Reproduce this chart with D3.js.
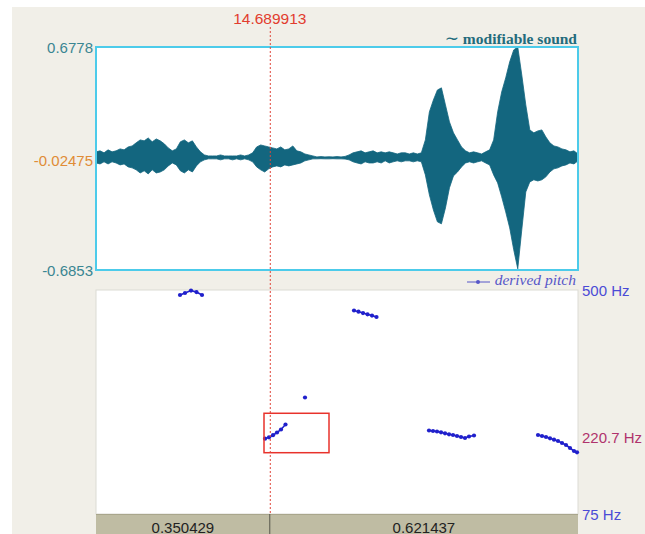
<!DOCTYPE html>
<html>
<head>
<meta charset="utf-8">
<script src="https://cdn.jsdelivr.net/npm/d3@7"></script>
<style>
  html, body { margin: 0; padding: 0; background: #ffffff; }
  svg { display: block; }
</style>
</head>
<body>
<svg id="chart" width="645" height="534"></svg>
<script>
// Visible time window (s): cursor position plus the two interval lengths around it
const cursorTime = 14.689913;
const leftSpan = 0.350429;
const rightSpan = 0.621437;

// Amplitude axis of the sound panel
const ampTop = 0.6778;
const ampBottom = -0.6853;
const ampAtCursor = -0.02475;

// Pitch axis (Hz)
const pitchTop = 500;
const pitchBottom = 75;
const pitchAtCursor = 220.7;

// Waveform envelope: maximum and minimum per column, evenly spaced over the window
const waveMax = [
  0.037, 0.043, 0.031, 0.049, 0.037, 0.043, 0.055, 0.049, 0.067, 0.073,
  0.092, 0.110, 0.104, 0.122, 0.098, 0.116, 0.104, 0.086, 0.061, 0.043,
  0.055, 0.098, 0.110, 0.092, 0.104, 0.067, 0.037, 0.018, 0.012, 0.012,
  0.012, 0.018, 0.012, 0.012, 0.012, 0.012, 0.018, 0.012, 0.018, 0.031,
  0.067, 0.079, 0.073, 0.067, 0.061, 0.055, 0.067, 0.049, 0.055, 0.073,
  0.043, 0.037, 0.024, 0.018, 0.012, 0.006, 0.008, 0.006, 0.007, 0.006,
  0.008, 0.006, 0.009, 0.018, 0.031, 0.037, 0.043, 0.031, 0.037, 0.043,
  0.031, 0.037, 0.031, 0.037, 0.031, 0.024, 0.031, 0.031, 0.024, 0.031,
  0.024, 0.031, 0.110, 0.281, 0.354, 0.415, 0.428, 0.324, 0.220, 0.153,
  0.110, 0.067, 0.043, 0.031, 0.037, 0.031, 0.024, 0.037, 0.049, 0.110,
  0.281, 0.403, 0.489, 0.587, 0.660, 0.678, 0.507, 0.324, 0.171, 0.153,
  0.165, 0.171, 0.128, 0.092, 0.073, 0.067, 0.055, 0.049, 0.037, 0.043,
  0.024
];
const waveMin = [
  -0.031, -0.037, -0.024, -0.037, -0.024, -0.031, -0.043, -0.037, -0.055, -0.061,
  -0.073, -0.092, -0.079, -0.098, -0.073, -0.092, -0.086, -0.073, -0.049, -0.031,
  -0.043, -0.079, -0.092, -0.073, -0.086, -0.049, -0.024, -0.012, -0.006, -0.006,
  -0.006, -0.012, -0.006, -0.006, -0.012, -0.006, -0.012, -0.006, -0.012, -0.024,
  -0.055, -0.073, -0.086, -0.067, -0.055, -0.049, -0.055, -0.043, -0.049, -0.043,
  -0.037, -0.031, -0.018, -0.012, -0.006, -0.006, -0.005, -0.006, -0.006, -0.005,
  -0.006, -0.006, -0.007, -0.012, -0.024, -0.031, -0.037, -0.024, -0.031, -0.031,
  -0.024, -0.031, -0.018, -0.031, -0.024, -0.018, -0.024, -0.018, -0.018, -0.024,
  -0.018, -0.024, -0.104, -0.226, -0.318, -0.391, -0.403, -0.306, -0.183, -0.110,
  -0.086, -0.055, -0.031, -0.024, -0.031, -0.024, -0.018, -0.031, -0.043, -0.104,
  -0.153, -0.238, -0.330, -0.428, -0.562, -0.678, -0.440, -0.208, -0.147, -0.134,
  -0.141, -0.134, -0.116, -0.086, -0.067, -0.061, -0.049, -0.043, -0.031, -0.037,
  -0.018
];

// Pitch contours: frame times (s) and F0 (Hz)
const contour1Time = [14.50885, 14.51894, 14.53103, 14.54212, 14.55322];
const contour1Hz   = [490.5, 494.3, 499.0, 496.0, 490.5];
const contour2Time = [14.68025, 14.68831, 14.69638, 14.70444, 14.71251, 14.72158];
const contour2Hz   = [218.0, 220.4, 224.5, 229.6, 235.3, 244.8];
const contour3Time = [14.76089];
const contour3Hz   = [296.0];
const contour4Time = [14.85970, 14.86877, 14.87785, 14.88692, 14.89599, 14.90507];
const contour4Hz   = [461.1, 458.8, 456.3, 453.9, 451.4, 448.8];
const contour5Time = [15.01092, 15.01899, 15.02706, 15.03512, 15.04319, 15.05125,
                      15.05932, 15.06738, 15.07545, 15.08351, 15.09157, 15.10166];
const contour5Hz   = [233.4, 232.5, 231.5, 230.0, 228.1, 226.2,
                      224.9, 223.0, 221.1, 219.2, 222.0, 223.9];
const contour6Time = [15.23070, 15.23877, 15.24683, 15.25490, 15.26296, 15.27103,
                      15.27909, 15.28716, 15.29522, 15.30329, 15.30934];
const contour6Hz   = [224.9, 223.0, 221.1, 218.6, 216.0, 213.5,
                      209.7, 205.9, 200.2, 194.5, 192.0];

// Selected region in the pitch panel
const selectionTime = [14.67823, 14.80929];
const selectionHz = [191.3, 266.1];

// ---------------------------------------------------------------------------
const svg = d3.select("#chart");
const W = 645, H = 534;
const sans = "'Liberation Sans', Arial, Helvetica, sans-serif";
const serif = "'Liberation Serif', 'Times New Roman', serif";

const tStart = cursorTime - leftSpan;
const tEnd = cursorTime + rightSpan;

const left = 96, right = 578;
const x = d3.scaleLinear().domain([tStart, tEnd]).range([left, right]);
const yAmp = d3.scaleLinear().domain([ampBottom, ampTop]).range([270, 47]);
const yHz = d3.scaleLinear().domain([pitchBottom, pitchTop]).range([514, 290]);

// window background
svg.append("rect").attr("width", W).attr("height", H).attr("fill", "#ffffff");
svg.append("rect").attr("x", 12).attr("y", 7).attr("width", W - 12).attr("height", H - 7)
  .attr("fill", "#f1efe8");

// ----- sound panel -----
svg.append("rect").attr("x", left).attr("y", yAmp(ampTop))
  .attr("width", right - left).attr("height", yAmp(ampBottom) - yAmp(ampTop))
  .attr("fill", "#ffffff");

svg.append("defs").append("clipPath").attr("id", "soundClip")
  .append("rect").attr("x", left).attr("y", yAmp(ampTop))
  .attr("width", right - left).attr("height", yAmp(ampBottom) - yAmp(ampTop));

const n = waveMax.length;
const waveTime = d3.range(n).map(i => tStart + i * (tEnd - tStart) / (n - 1));
const wave = waveTime.map((t, i) => ({ t, hi: waveMax[i], lo: waveMin[i] }));

const area = d3.area()
  .x(d => x(d.t))
  .y0(d => yAmp(d.lo))
  .y1(d => yAmp(d.hi))
  .curve(d3.curveLinear);

svg.append("path").datum(wave)
  .attr("clip-path", "url(#soundClip)")
  .attr("d", area)
  .attr("fill", "#13667f")
  .attr("stroke", "#13667f")
  .attr("stroke-width", 0.8)
  .attr("stroke-linejoin", "round");

svg.append("rect").attr("x", left).attr("y", yAmp(ampTop))
  .attr("width", right - left).attr("height", yAmp(ampBottom) - yAmp(ampTop))
  .attr("fill", "none").attr("stroke", "#4ccbea").attr("stroke-width", 2);

// amplitude labels
svg.append("text").attr("x", 93).attr("y", yAmp(ampTop))
  .attr("text-anchor", "end").attr("dominant-baseline", "central")
  .attr("font-family", sans).attr("font-size", 15).attr("fill", "#3a8692")
  .text(ampTop.toString());
svg.append("text").attr("x", 93).attr("y", yAmp(ampAtCursor) - 1.5)
  .attr("text-anchor", "end").attr("dominant-baseline", "central")
  .attr("font-family", sans).attr("font-size", 15).attr("fill", "#e08c36")
  .text(ampAtCursor.toString());
svg.append("text").attr("x", 93).attr("y", yAmp(ampBottom))
  .attr("text-anchor", "end").attr("dominant-baseline", "central")
  .attr("font-family", sans).attr("font-size", 15).attr("fill", "#3a8692")
  .text(ampBottom.toString());

// panel title
const title = svg.append("text").attr("x", 577).attr("y", 44)
  .attr("text-anchor", "end")
  .attr("font-family", serif).attr("font-weight", "bold").attr("font-size", 15.5)
  .attr("fill", "#236b7c");
title.append("tspan").attr("font-family", "'DejaVu Sans', sans-serif").attr("font-weight", "normal")
  .attr("font-size", 17).text("\u223C");
title.append("tspan").text(" modifiable sound");

// ----- pitch panel -----
svg.append("rect").attr("x", left).attr("y", yHz(pitchTop))
  .attr("width", right - left).attr("height", yHz(pitchBottom) - yHz(pitchTop))
  .attr("fill", "#ffffff").attr("stroke", "#dcdbd4").attr("stroke-width", 1);

// legend
const legY = 282;
svg.append("line").attr("x1", 467).attr("x2", 490).attr("y1", legY).attr("y2", legY)
  .attr("stroke", "#5757c8").attr("stroke-width", 1);
svg.append("circle").attr("cx", 478).attr("cy", legY).attr("r", 2)
  .attr("fill", "#5757c8");
svg.append("text").attr("x", 576).attr("y", 285)
  .attr("text-anchor", "end")
  .attr("font-family", serif).attr("font-style", "italic").attr("font-size", 15.5)
  .attr("fill", "#5757c8")
  .text("derived pitch");

// pitch axis labels
const hzLabel = (v, color) => svg.append("text")
  .attr("x", 582).attr("y", yHz(v))
  .attr("dominant-baseline", "central")
  .attr("font-family", sans).attr("font-size", 15).attr("fill", color)
  .text(v + " Hz");
hzLabel(pitchTop, "#4b4bd6");
hzLabel(pitchAtCursor, "#b0336c");
hzLabel(pitchBottom, "#4b4bd6");

// pitch contours
const contours = [
  [contour1Time, contour1Hz], [contour2Time, contour2Hz], [contour3Time, contour3Hz],
  [contour4Time, contour4Hz], [contour5Time, contour5Hz], [contour6Time, contour6Hz]
].map(([ts, hz]) => ts.map((t, i) => ({ t, hz: hz[i] })));

const pitchLine = d3.line().x(d => x(d.t)).y(d => yHz(d.hz));
const pg = svg.append("g");
contours.forEach(c => {
  pg.append("path").datum(c).attr("d", pitchLine)
    .attr("fill", "none").attr("stroke", "#2020cc").attr("stroke-width", 1.6);
  pg.selectAll(null).data(c).enter().append("circle")
    .attr("cx", d => x(d.t)).attr("cy", d => yHz(d.hz)).attr("r", 2.1)
    .attr("fill", "#2020cc");
});

// selection box
svg.append("rect")
  .attr("x", x(selectionTime[0])).attr("y", yHz(selectionHz[1]))
  .attr("width", x(selectionTime[1]) - x(selectionTime[0]))
  .attr("height", yHz(selectionHz[0]) - yHz(selectionHz[1]))
  .attr("fill", "none").attr("stroke", "#e8322b").attr("stroke-width", 1.5);

// ----- interval bar -----
const barTop = yHz(pitchBottom);
svg.append("rect").attr("x", left).attr("y", barTop)
  .attr("width", right - left).attr("height", H - barTop)
  .attr("fill", "#bfbca3");
svg.append("line").attr("x1", left).attr("x2", right).attr("y1", barTop + 0.5).attr("y2", barTop + 0.5)
  .attr("stroke", "#a9a68c").attr("stroke-width", 1);
svg.append("line").attr("x1", x(cursorTime)).attr("x2", x(cursorTime))
  .attr("y1", barTop).attr("y2", H)
  .attr("stroke", "#55554a").attr("stroke-width", 1);
svg.append("text").attr("x", (x(tStart) + x(cursorTime)) / 2).attr("y", 527)
  .attr("text-anchor", "middle").attr("dominant-baseline", "central")
  .attr("font-family", sans).attr("font-size", 15).attr("fill", "#222222")
  .text(leftSpan.toFixed(6));
svg.append("text").attr("x", (x(cursorTime) + x(tEnd)) / 2).attr("y", 527)
  .attr("text-anchor", "middle").attr("dominant-baseline", "central")
  .attr("font-family", sans).attr("font-size", 15).attr("fill", "#222222")
  .text(rightSpan.toFixed(6));

// ----- cursor -----
svg.append("line").attr("x1", x(cursorTime) + 0.5).attr("x2", x(cursorTime) + 0.5)
  .attr("y1", 27).attr("y2", barTop)
  .attr("stroke", "#e0453a").attr("stroke-width", 1).attr("stroke-dasharray", "2,2");
svg.append("text").attr("x", x(cursorTime)).attr("y", 24)
  .attr("text-anchor", "middle")
  .attr("font-family", sans).attr("font-size", 15.5).attr("fill", "#e23c2e")
  .text(cursorTime.toFixed(6));
</script>
</body>
</html>
